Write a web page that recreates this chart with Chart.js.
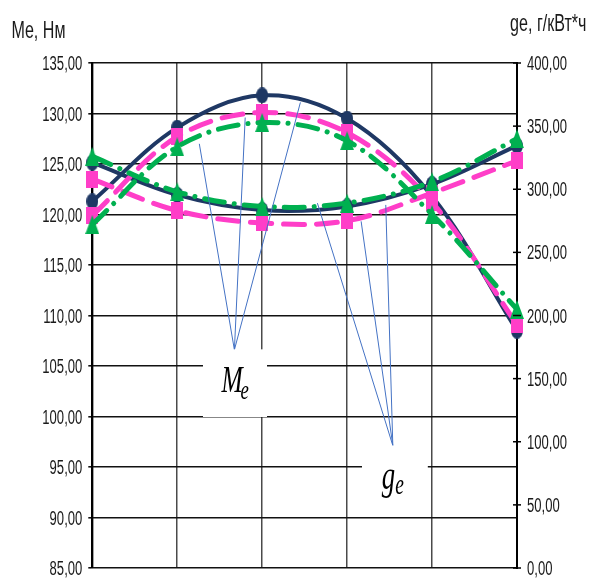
<!DOCTYPE html>
<html>
<head>
<meta charset="utf-8">
<script src="https://cdn.jsdelivr.net/npm/chart.js@4"></script>
<style>
  html, body { margin: 0; padding: 0; background: #fff; }
  #wrap { width: 590px; height: 581px; position: relative; }
</style>
</head>
<body>
<div id="wrap"><canvas id="c" width="590" height="581"></canvas></div>
<script>
// ---- data ----
const categories = ['1', '2', '3', '4', '5', '6'];
const meNavy  = [121.3, 128.6, 131.8, 129.5, 121.8, 108.5];
const mePink  = [119.9, 127.7, 130.1, 128.1, 121.2, 109.1];
const meGreen = [119.0, 126.7, 129.1, 127.3, 120.0, 110.6];
const geNavy  = [321.0, 295.5, 283.5, 286.4, 304.0, 334.5];
const gePink  = [308.0, 283.0, 273.3, 275.0, 297.0, 322.6];
const geGreen = [326.0, 298.0, 286.4, 289.0, 306.0, 340.0];
const leftTitle = 'Me, Нм';
const rightTitle = 'ge, г/кВт*ч';
const meRange = [85, 135, 5];
const geRange = [0, 400, 50];
// annotation anchors in data coordinates (x = category index)
const meLabel = { text: 'M', sub: 'e' };
const geLabel = { text: 'g', sub: 'e' };
const meLeaderOrigin = { x: 1.673, y: 106.6 };
const meLeaderTargets = [{ x: 1.26, y: 127.0 }, { x: 1.80, y: 129.6 }, { x: 2.45, y: 131.1 }];
const geLeaderOrigin = { x: 3.538, y: 97.0 };
const geLeaderTargets = [{ x: 2.65, y: 289.0 }, { x: 3.165, y: 274.6 }, { x: 3.455, y: 287.6 }];
const meBox = { x0: 1.303, x1: 2.057, y0: 106.65, y1: 99.95 };
const geBox = { x0: 3.175, x1: 3.95, y0: 97.0, y1: 45.0 };

// ---- styles ----
const NAVY = '#1F3864', PINK = '#FF3EC8', GREEN = '#00B050';
const SQ = 0.67; // horizontal squeeze of the reference text

function marker(kind, color) {
  const c = document.createElement('canvas');
  let w, h;
  if (kind === 'circle') { w = 12; h = 16; }
  else if (kind === 'rect') { w = 12; h = 17; }
  else { w = 14; h = 19; }
  c.width = w; c.height = h;
  const g = c.getContext('2d');
  g.fillStyle = color;
  g.beginPath();
  if (kind === 'circle') g.ellipse(w / 2, h / 2, w / 2, h / 2, 0, 0, Math.PI * 2);
  else if (kind === 'rect') g.rect(0, 0, w, h);
  else { g.moveTo(w / 2, 0); g.lineTo(w, h); g.lineTo(0, h); g.closePath(); }
  g.fill();
  return c;
}
const mkNavy = marker('circle', NAVY);
const mkPink = marker('rect', PINK);
const mkGreen = marker('tri', GREEN);

function ds(label, data, axis, color, mk, dash, order) {
  return {
    label, data, yAxisID: axis,
    borderColor: color, backgroundColor: color,
    borderWidth: color === NAVY ? 4 : 5,
    borderDash: dash, borderCapStyle: dash.length ? 'round' : 'butt',
    tension: 0.35,
    pointStyle: mk, pointRadius: 8, pointHoverRadius: 8,
    clip: false, order
  };
}

function sText(ctx, text, x, y, font, align, color) {
  ctx.save();
  ctx.font = font;
  ctx.fillStyle = color || '#1a1a1a';
  ctx.textBaseline = 'alphabetic';
  ctx.translate(x, y);
  ctx.scale(SQ, 1);
  ctx.textAlign = align;
  ctx.fillText(text, 0, 0);
  ctx.restore();
}

const fmt = v => v.toFixed(2).replace('.', ',');

const decor = {
  id: 'decor',
  afterDraw(chart) {
    const ctx = chart.ctx;
    const x = chart.scales.x, y = chart.scales.y, y2 = chart.scales.y2;
    // right axis cross tick marks
    ctx.save();
    ctx.strokeStyle = '#000'; ctx.lineWidth = 1.5;
    y2.ticks.forEach(t => {
      const py = y2.getPixelForValue(t.value);
      ctx.beginPath(); ctx.moveTo(y2.left - 4, py); ctx.lineTo(y2.left + 4, py); ctx.stroke();
    });
    ctx.restore();
    // tick labels
    const tf = '19.5px "Liberation Sans", Arial, sans-serif';
    y.ticks.forEach(t => {
      sText(ctx, t.label, y.right - 10, y.getPixelForValue(t.value) + 7, tf, 'right');
    });
    y2.ticks.forEach(t => {
      sText(ctx, t.label, y2.left + 10, y2.getPixelForValue(t.value) + 7, tf, 'left');
    });
    // axis titles
    sText(ctx, leftTitle, 11.5, 38, '24px "Liberation Sans", Arial, sans-serif', 'left');
    sText(ctx, rightTitle, 586.5, 31, '24px "Liberation Sans", Arial, sans-serif', 'right');

    // leader lines
    ctx.save();
    ctx.strokeStyle = '#4472C4'; ctx.lineWidth = 1;
    const ox = x.getPixelForValue(meLeaderOrigin.x), oy = y.getPixelForValue(meLeaderOrigin.y);
    meLeaderTargets.forEach(p => {
      ctx.beginPath(); ctx.moveTo(ox, oy);
      ctx.lineTo(x.getPixelForValue(p.x), y.getPixelForValue(p.y)); ctx.stroke();
    });
    const gx = x.getPixelForValue(geLeaderOrigin.x), gy = y2.getPixelForValue(geLeaderOrigin.y);
    geLeaderTargets.forEach(p => {
      ctx.beginPath(); ctx.moveTo(gx, gy);
      ctx.lineTo(x.getPixelForValue(p.x), y2.getPixelForValue(p.y)); ctx.stroke();
    });
    ctx.restore();

    // label boxes
    ctx.save();
    ctx.fillStyle = '#fff';
    let bx0 = x.getPixelForValue(meBox.x0), bx1 = x.getPixelForValue(meBox.x1);
    let by0 = y.getPixelForValue(meBox.y0), by1 = y.getPixelForValue(meBox.y1);
    ctx.fillRect(bx0, by0, bx1 - bx0, by1 - by0);
    bx0 = x.getPixelForValue(geBox.x0); bx1 = x.getPixelForValue(geBox.x1);
    by0 = y2.getPixelForValue(geBox.y0); by1 = y2.getPixelForValue(geBox.y1);
    ctx.fillRect(bx0, by0, bx1 - bx0, by1 - by0);
    ctx.restore();

    const serif = '"Liberation Serif", "DejaVu Serif", serif';
    // M_e
    const mx = x.getPixelForValue(meLeaderOrigin.x) - 13;
    const my = y.getPixelForValue(meLeaderOrigin.y) + 42;
    ctx.save();
    ctx.font = 'italic 38px ' + serif;
    const mw = ctx.measureText(meLabel.text).width * SQ;
    ctx.restore();
    sText(ctx, meLabel.text, mx, my, 'italic 38px ' + serif, 'left', '#000');
    sText(ctx, meLabel.sub, mx + mw - 2, my + 7, 'italic 28px ' + serif, 'left', '#000');
    // g_e
    const qx = x.getPixelForValue(geLeaderOrigin.x) - 11;
    const qy = y2.getPixelForValue(geLeaderOrigin.y) + 43;
    ctx.save();
    ctx.font = 'italic 40px ' + serif;
    const qw = ctx.measureText(geLabel.text).width * SQ;
    ctx.restore();
    sText(ctx, geLabel.text, qx, qy, 'italic 40px ' + serif, 'left', '#000');
    sText(ctx, geLabel.sub, qx + qw, qy + 5, 'italic 29px ' + serif, 'left', '#000');
  }
};

new Chart(document.getElementById('c'), {
  type: 'line',
  data: {
    labels: categories,
    datasets: [
      ds('Me 3', meGreen, 'y', GREEN, mkGreen, [20, 10, 0.1, 10], 0),
      ds('ge 3', geGreen, 'y2', GREEN, mkGreen, [20, 10, 0.1, 10], 1),
      ds('Me 2', mePink, 'y', PINK, mkPink, [21, 12], 2),
      ds('ge 2', gePink, 'y2', PINK, mkPink, [21, 12], 3),
      ds('Me 1', meNavy, 'y', NAVY, mkNavy, [], 4),
      ds('ge 1', geNavy, 'y2', NAVY, mkNavy, [], 5)
    ]
  },
  options: {
    responsive: false,
    animation: false,
    layout: { padding: { top: 63, bottom: 7, left: 0, right: 0 } },
    plugins: { legend: { display: false }, tooltip: { enabled: false } },
    scales: {
      x: {
        type: 'category', offset: false,
        ticks: { display: false },
        grid: { color: '#4a4a4a', lineWidth: 1.5, drawTicks: false },
        border: { display: false }
      },
      y: {
        position: 'left', min: meRange[0], max: meRange[1],
        ticks: { stepSize: meRange[2], display: false, callback: v => fmt(v) },
        grid: { color: '#111', lineWidth: 1.6, tickLength: 4 },
        border: { color: '#000', width: 2 },
        afterFit: s => { s.width = 92.3; }
      },
      y2: {
        position: 'right', min: geRange[0], max: geRange[1],
        ticks: { stepSize: geRange[2], display: false, callback: v => fmt(v) },
        grid: { drawOnChartArea: false, drawTicks: false },
        border: { color: '#000', width: 2 },
        afterFit: s => { s.width = 73; }
      }
    }
  },
  plugins: [decor]
});
</script>
</body>
</html>
